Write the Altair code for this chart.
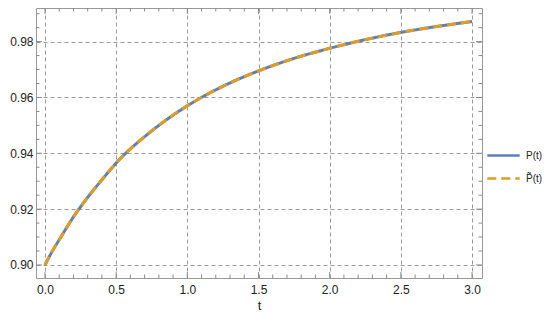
import altair as alt
import pandas as pd

# values
t_vals = [0.0, 0.05, 0.1, 0.2, 0.3, 0.4, 0.5, 0.75, 1.0, 1.25, 1.5, 1.75, 2.0, 2.25, 2.5, 2.75, 3.0]
p_vals = [0.900, 0.9048, 0.9090, 0.9172, 0.9242, 0.9305, 0.9365, 0.9480, 0.9570, 0.9640,
          0.9695, 0.9740, 0.9776, 0.9807, 0.9833, 0.9854, 0.9872]
series_names = ["P(t)", "P\u0303(t)"]
series_colors = ["#5E81B5", "#E19C24"]

x_major = [0.0, 0.5, 1.0, 1.5, 2.0, 2.5, 3.0]
x_minor = [round(i * 0.1, 1) for i in range(0, 31) if i % 5 != 0]
y_major = [0.90, 0.92, 0.94, 0.96, 0.98]
y_minor = [round(0.9 + i * 0.005, 3) for i in range(0, 19) if i % 4 != 0]

rows = []
for name in series_names:
    for t, v in zip(t_vals, p_vals):
        rows.append({"t": t, "v": v, "series": name})
df = pd.DataFrame(rows)

W, H = 446, 270
xs = alt.Scale(domain=[-0.063, 3.07], nice=False, zero=False)
ys = alt.Scale(domain=[0.89533, 0.99204], nice=False, zero=False)

GRID = "#9a9a9a"
TICK = "#8a8a8a"
LBL = "#222222"
FONT = "Liberation Sans"
MAJ, MIN = 6, 3.5


def ax_bottom():
    return alt.Axis(orient="bottom", values=x_major, format=".1f", grid=True, gridDash=[4, 3],
                    gridColor=GRID, gridWidth=1, ticks=False, domain=False, labelPadding=6,
                    labelFontSize=12, labelColor=LBL, labelFont=FONT,
                    title="t", titleFontSize=13, titleFontWeight="normal", titleColor=LBL,
                    titleFont=FONT, titlePadding=4)


def ax_left():
    return alt.Axis(orient="left", values=y_major, format=".2f", grid=True, gridDash=[4, 3],
                    gridColor=GRID, gridWidth=1, ticks=False, domain=False, labelPadding=3,
                    labelFontSize=12, labelColor=LBL, labelFont=FONT, title=None)


color = alt.Color("series:N", scale=alt.Scale(domain=series_names, range=series_colors),
                  legend=alt.Legend(title=None, orient="none", legendX=450, legendY=130,
                                    symbolType="stroke", symbolSize=1050, symbolStrokeWidth=2.5,
                                    labelFontSize=10, labelColor=LBL, labelFont=FONT,
                                    labelOffset=5, rowPadding=-12))
dash = alt.StrokeDash("series:N", scale=alt.Scale(domain=series_names, range=[[1, 0], [9, 5]]),
                      legend=alt.Legend(title=None))

blue = alt.Chart(df).transform_filter(alt.datum.series == series_names[0]).mark_line(
    strokeWidth=3, interpolate="monotone").encode(
    x=alt.X("t:Q", scale=xs, axis=ax_bottom()),
    y=alt.Y("v:Q", scale=ys, axis=ax_left()),
    color=color, strokeDash=dash)

orange = alt.Chart(df).transform_filter(alt.datum.series == series_names[1]).mark_line(
    strokeWidth=3, interpolate="monotone").encode(
    x=alt.X("t:Q", scale=xs, axis=ax_bottom()),
    y=alt.Y("v:Q", scale=ys, axis=ax_left()),
    color=color, strokeDash=dash)


def xticks(vals, y0, y1):
    return alt.Chart(pd.DataFrame({"t": vals})).mark_rule(color=TICK, strokeWidth=1).encode(
        x=alt.X("t:Q", scale=xs, axis=ax_bottom()), y=alt.value(y0), y2=alt.value(y1))


def yticks(vals, x0, x1):
    return alt.Chart(pd.DataFrame({"v": vals})).mark_rule(color=TICK, strokeWidth=1).encode(
        y=alt.Y("v:Q", scale=ys, axis=ax_left()), x=alt.value(x0), x2=alt.value(x1))


tick_layers = [
    xticks(x_major, H, H - MAJ), xticks(x_minor, H, H - MIN),
    xticks(x_major, 0, MAJ), xticks(x_minor, 0, MIN),
    yticks(y_major, 0, MAJ), yticks(y_minor, 0, MIN),
    yticks(y_major, W, W - MAJ), yticks(y_minor, W, W - MIN),
]

chart = alt.layer(blue, orange, *tick_layers).properties(
    width=W, height=H,
    autosize=alt.AutoSizeParams(type="none"),
    padding={"left": 28, "top": 0, "right": 60, "bottom": 41},
    background="white",
).configure_view(stroke="#999999", strokeWidth=1)

chart.save("out.html", embed_options={"renderer": "svg", "actions": False})
